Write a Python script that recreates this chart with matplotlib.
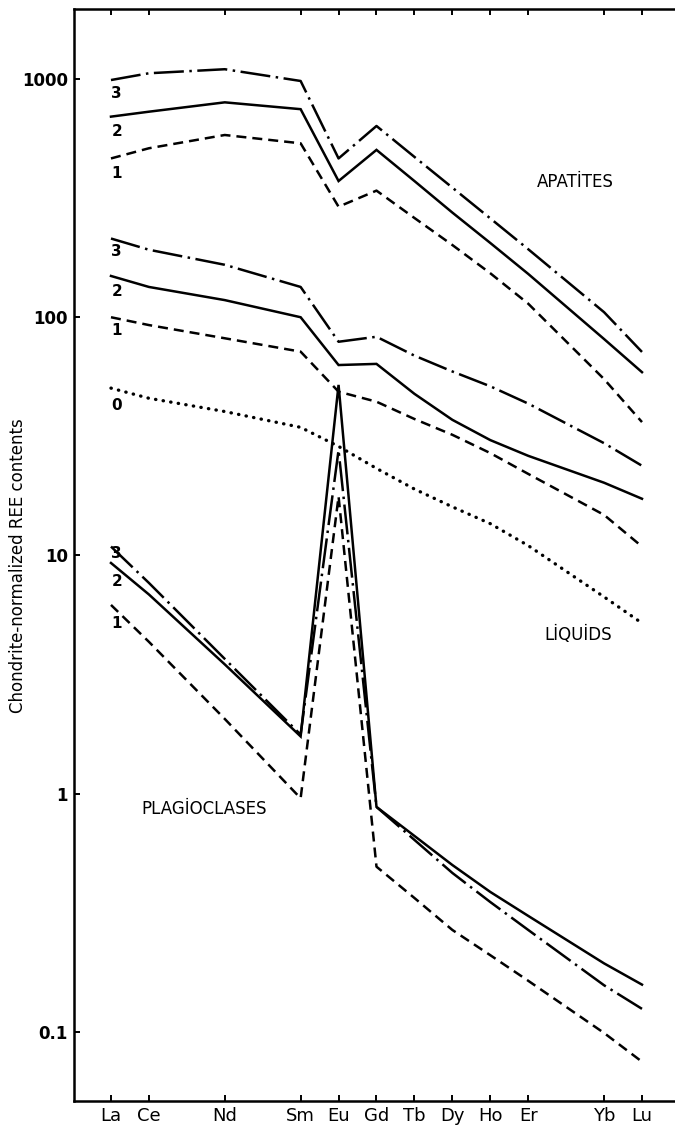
import matplotlib
matplotlib.use("Agg")
import matplotlib.pyplot as plt
from matplotlib.ticker import FixedLocator, NullLocator

# rare earth elements on the x axis, spaced by atomic number
elements = ["La", "Ce", "Nd", "Sm", "Eu", "Gd", "Tb", "Dy", "Ho", "Er", "Yb", "Lu"]
atomic_numbers = [57, 58, 60, 62, 63, 64, 65, 66, 67, 68, 70, 71]

# chondrite-normalized contents
apatite_3 = [990, 1057, 1099, 981, 464, 635, 471, 350, 260, 193, 105, 71.5]
apatite_2 = [695, 729, 798, 747, 373, 504, 373, 275, 205, 152, 81, 58.8]
apatite_1 = [464, 512, 582, 537, 291, 340, 261, 201, 153, 114, 55, 36.3]

liquid_3 = [214, 192, 166, 134, 78.9, 82.8, 69, 59.2, 51.3, 43.4, 29.6, 23.8]
liquid_2 = [149, 134, 118, 100, 63, 63.7, 47.7, 37.1, 30.5, 26.2, 20.2, 17.3]
liquid_1 = [100, 92.7, 81.6, 71.7, 48.7, 44.2, 37.4, 32.1, 26.9, 22.0, 14.8, 10.9]
liquid_0 = [50.4, 45.7, 40.2, 34.5, 28.7, 23.2, 19.0, 16.0, 13.6, 11.0, 6.7, 5.2]

plag_3 = [10.9, 7.67, 3.68, 1.77, 27.7, 0.88, 0.64, 0.465, 0.351, 0.268, 0.157, 0.125]
plag_2 = [9.3, 6.86, 3.49, 1.74, 52, 0.88, 0.665, 0.502, 0.387, 0.307, 0.194, 0.158]
plag_1 = [6.2, 4.34, 2.06, 0.957, 17.7, 0.494, 0.365, 0.268, 0.210, 0.164, 0.099, 0.075]

# curve number labels next to La: (text, y value)
curve_labels = [("3", 873), ("2", 601), ("1", 403),
                ("3", 188), ("2", 128), ("1", 88.3), ("0", 42.8),
                ("3", 10.2), ("2", 7.76), ("1", 5.19)]

y_ticks = [0.1, 1, 10, 100, 1000]
y_tick_labels = ["0.1", "1", "10", "100", "1000"]

DASHED = (4, 2.4)
DASHDOT = (12, 2.2, 1, 2.2)


def draw_curve(ax, values, style):
    if style == "solid":
        ax.plot(atomic_numbers, values, color="black", lw=1.8, solid_joinstyle="miter")
    elif style == "dashed":
        ax.plot(atomic_numbers, values, color="black", lw=1.8, dashes=DASHED)
    elif style == "dashdot":
        ax.plot(atomic_numbers, values, color="black", lw=1.8, dashes=DASHDOT)
    elif style == "dotted":
        ax.plot(atomic_numbers, values, color="black", lw=2.4, dashes=(0.1, 2.2),
                dash_capstyle="round")


def main():
    fig = plt.figure(figsize=(6.75, 11.29), dpi=100)
    ax = fig.add_axes([74 / 675, 28 / 1129, 603 / 675, 1092 / 1129])

    for values, style in [(apatite_3, "dashdot"), (apatite_2, "solid"), (apatite_1, "dashed"),
                          (liquid_3, "dashdot"), (liquid_2, "solid"), (liquid_1, "dashed"),
                          (liquid_0, "dotted"),
                          (plag_3, "dashdot"), (plag_2, "solid"), (plag_1, "dashed")]:
        draw_curve(ax, values, style)

    ax.set_yscale("log")
    ax.set_xlim(56.025, 71.923)
    ax.set_ylim(0.0513, 1967)

    ax.yaxis.set_major_locator(FixedLocator(y_ticks))
    ax.yaxis.set_minor_locator(NullLocator())
    ax.set_yticklabels(y_tick_labels, fontsize=12, fontweight="bold")
    ax.set_xticks(atomic_numbers)
    ax.set_xticklabels(elements, fontsize=13)
    ax.tick_params(axis="both", direction="in", length=4.5, width=1.4, pad=4.3)
    ax.tick_params(axis="x", top=True)

    for side in ["left", "bottom", "top", "right"]:
        ax.spines[side].set_linewidth(1.8)

    ax.set_ylabel("Chondrite-normalized REE contents", fontsize=12)
    ax.yaxis.set_label_coords(-0.078, 0.49)

    for text, yval in curve_labels:
        ax.text(57.15, yval, text, fontsize=11, fontweight="bold", ha="center", va="center")

    ax.text(69.23, 370, "APATİTES", fontsize=12, ha="center", va="center")
    ax.text(69.31, 4.63, "LİQUİDS", fontsize=12, ha="center", va="center")
    ax.text(59.45, 0.863, "PLAGİOCLASES", fontsize=12, ha="center", va="center")

    fig.savefig("out.png", dpi=100, facecolor="white")


main()
